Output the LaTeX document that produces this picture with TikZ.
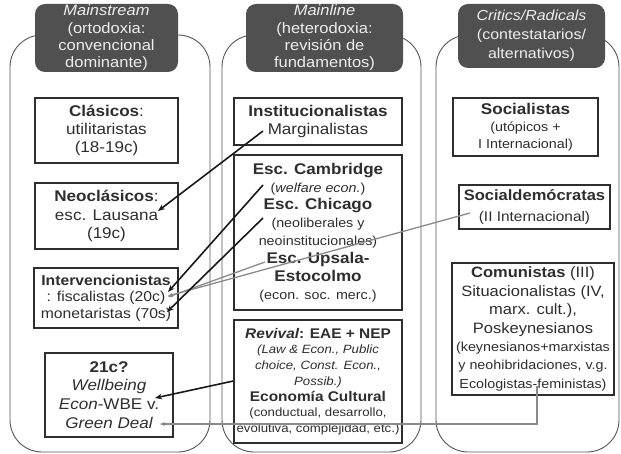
\documentclass[tikz,border=0pt]{standalone}
\usepackage{fontspec}
\setmainfont{Liberation Sans}[FakeStretch=1.1]
\usetikzlibrary{arrows.meta}
\newcommand\fz[2]{\fontsize{#1}{#2}\selectfont}
\definecolor{txt}{HTML}{2E2E2E}
\definecolor{hdr}{HTML}{505050}
\definecolor{hdrtxt}{HTML}{EEEEEE}
\definecolor{colln}{HTML}{555555}
\definecolor{grayarr}{HTML}{8A8A8A}
\begin{document}
\begin{tikzpicture}[x=1pt,y=-1pt,
  colbox/.style={draw=colln, line width=0.9pt, rounded corners=32pt, inner sep=0pt},
  hdrbox/.style={fill=hdr, rounded corners=10pt, text=hdrtxt, align=center, inner sep=0pt},
  ibox/.style={draw=txt, line width=1.4pt, fill=white, text=txt, align=center, inner sep=0pt},
  blk/.style={draw=black!90, line width=1.6pt, -{Stealth[length=7pt,width=5.5pt]}},
  gry/.style={draw=grayarr, line width=1.3pt, -{Stealth[length=5pt,width=4pt]}}]
\useasboundingbox (0,0) rectangle (621,454);
% columns
\node[colbox, minimum width=200pt, minimum height=417pt] (colL) at (110,243.5) {};
\node[colbox, minimum width=199pt, minimum height=417pt] (colM) at (321.5,243.5) {};
\node[colbox, minimum width=183pt, minimum height=417pt] (colR) at (527.5,243.5) {};
% headers
\node[hdrbox, minimum width=143pt, minimum height=68pt, font=\fz{15}{17.3}] (hL) at (106.5,38)
  {{\itshape Mainstream}\\(ortodoxia:\\convencional\\dominante)};
\node[hdrbox, minimum width=157pt, minimum height=68pt, font=\fz{15}{17.3}] (hM) at (324.5,38)
  {{\itshape Mainline}\\(heterodoxia:\\revisión de\\fundamentos)};
\node[hdrbox, minimum width=147pt, minimum height=64pt, font=\fz{14.5}{19}] (hR) at (531.5,36)
  {{\itshape Critics/Radicals}\\(contestatarios/\\alternativos)};
% left boxes
\node[ibox, minimum width=143pt, minimum height=65pt, font=\fz{15.5}{18.3}] (clas) at (106.5,130.5)
  {{\bfseries Clásicos}:\\utilitaristas\\(18-19c)};
\node[ibox, minimum width=143pt, minimum height=66pt, font=\fz{15.5}{18.5}] (neo) at (106.5,216)
  {{\bfseries Neoclásicos}:\\esc. Lausana\\(19c)};
\node[ibox, minimum width=144pt, minimum height=60pt, font=\fz{14.3}{16.5}] (interv) at (106,298)
  {{\bfseries Intervencionistas}\\: fiscalistas (20c)\\monetaristas (70s)};
\node[ibox, minimum width=128pt, minimum height=84pt, font=\fz{15.5}{18.7}] (wbe) at (109,395)
  {{\bfseries 21c?}\\{\itshape Wellbeing}\\{\itshape Econ}-WBE v.\\{\itshape Green Deal}};
% middle boxes
\node[ibox, minimum width=168pt, minimum height=47pt, font=\fz{15.5}{18}] (inst) at (318,121.5)
  {{\bfseries Institucionalistas}\\Marginalistas};
\node[ibox, minimum width=168pt, minimum height=155pt, font=\fz{15.5}{17.9}] (big) at (318,232.5)
  {{\bfseries Esc. Cambridge}\\{\fz{13}{15}(\textit{welfare econ.})}\\{\bfseries Esc. Chicago}\\
   {\fz{13}{15}(neoliberales y}\\{\fz{13}{15}neoinstitucionales)}\\{\bfseries Esc. Upsala-}\\
   {\bfseries Estocolmo}\\{\fz{13}{15}(econ. soc. merc.)}};
\node[ibox, minimum width=168pt, minimum height=123pt, font=\fz{14}{15.7}] (rev) at (318,381.5)
  {{\bfseries\itshape Revival}{\bfseries: EAE + NEP}\\{\fz{12}{14}\itshape (Law \& Econ., Public}\\
   {\fz{12}{14}\itshape choice, Const. Econ.,}\\{\fz{12}{14}\itshape Possib.)}\\{\bfseries Economía Cultural}\\
   {\fz{12}{14}(conductual, desarrollo,}\\{\fz{12}{14}evolutiva, complejidad, etc.)}};
% right boxes
\node[ibox, minimum width=145pt, minimum height=58pt, font=\fz{15.5}{17}] (soc) at (525.5,127)
  {{\bfseries Socialistas}\\{\fz{13}{15}(utópicos +}\\{\fz{13}{15}I Internacional)}};
\node[ibox, minimum width=151pt, minimum height=44pt, font=\fz{15}{21}] (sd) at (534.5,207)
  {{\bfseries Socialdemócratas}\\{\fz{14}{16}(II Internacional)}};
\node[ibox, minimum width=162pt, minimum height=132pt, font=\fz{15}{18.4}] (com) at (533,329)
  {{\bfseries Comunistas} (III)\\Situacionalistas (IV,\\marx. cult.),\\Poskeynesianos\\
   {\fz{13}{15}(keynesianos+marxistas}\\{\fz{13}{15}y neohibridaciones, v.g.}\\{\fz{13}{15}Ecologistas-feministas)}};
% connector points
\coordinate (pMarg) at (263,131);
\coordinate (pLaus) at (158,211);
\coordinate (pWelf) at (263,185);
\coordinate (pFisc) at (168,292);
\coordinate (pChic) at (263,218);
\coordinate (pMone) at (167,312);
\coordinate (pSD) at (470,213);
\coordinate (pFisc2) at (168,296);
\coordinate (pUps) at (265,262);
\coordinate (pFisc3) at (168,297);
\coordinate (pRev) at (rev.west |- 0,381);
\coordinate (pWBE) at (155,398);
\coordinate (pCom) at (537,386);
\coordinate (pBend) at (537,424);
\coordinate (pGreen) at (160,424);
% connectors
\draw[gry] (pSD) -- (pFisc2);
\draw[gry] (pUps) -- (pFisc3);
\draw[blk] (pMarg) -- (pLaus);
\draw[blk] (pWelf) -- (pFisc);
\draw[blk] (pChic) -- (pMone);
\draw[blk] (pRev) -- (pWBE);
\draw[gry] (pCom) -- (pBend) -- (pGreen);
\end{tikzpicture}
\end{document}
